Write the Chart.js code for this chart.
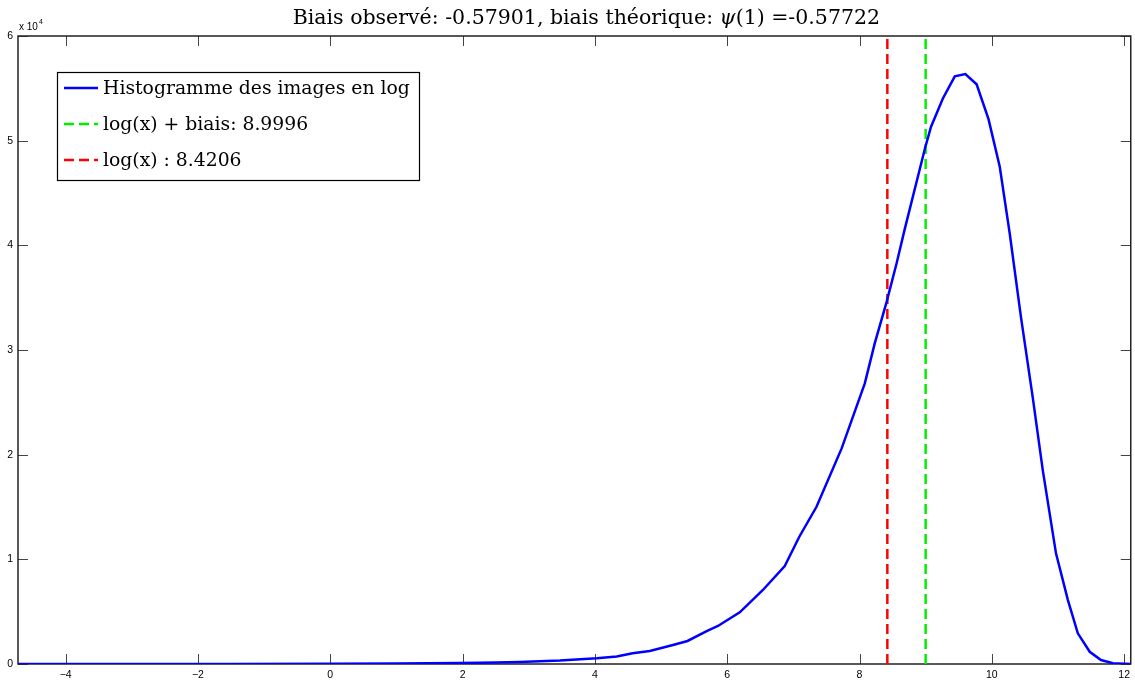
<!DOCTYPE html>
<html>
<head>
<meta charset="utf-8">
<script src="https://cdn.jsdelivr.net/npm/chart.js@4/dist/chart.umd.min.js"></script>
<style>
  html, body { margin: 0; padding: 0; background: #fff; }
  #wrap { width: 1135px; height: 684px; position: relative; }
</style>
</head>
<body>
<div id="wrap"><canvas id="chart"></canvas></div>
<script>
// Histogram of log-images with two reference lines (log(x) and log(x)+bias).

const TITLE_PARTS = [
  { text: 'Biais observé: -0.57901, biais théorique: ', italic: false },
  { text: 'ψ', italic: true },
  { text: '(1) =-0.57722', italic: false },
];

// bin centres and counts
const histX = [
  -4.72, -3, -1.5, 0, 1, 1.96, 2.5, 2.86, 3.47, 4.03, 4.33, 4.57, 4.83, 5.18, 5.40,
  5.69, 5.86, 6.19, 6.54, 6.87, 7.09, 7.35, 7.73, 8.08, 8.23, 8.41, 8.56, 8.68,
  8.99, 9.08, 9.26, 9.44, 9.60, 9.77, 9.95, 10.12, 10.27, 10.44, 10.62, 10.77,
  10.97, 11.15, 11.30, 11.48, 11.65, 11.83, 12.1
];
const histY = [
  0, 0, 5, 15, 40, 90, 140, 200, 340, 560, 720, 1020, 1240, 1810, 2200,
  3150, 3630, 4940, 7070, 9360, 12160, 15020, 20600, 26810, 30630, 34600, 38270, 41450,
  49280, 51310, 54030, 56150, 56370, 55390, 52050, 47500, 41160, 33160, 25400, 18530,
  10570, 6110, 2930, 1170, 380, 70, 0
];

const biasLineX = 8.9996;
const logLineX = 8.4206;
const lineYRange = [0, 60000];

const xTicks = [-4, -2, 0, 2, 4, 6, 8, 10, 12];
const yTicks = [0, 10000, 20000, 30000, 40000, 50000, 60000];
const X_MIN = -4.72, X_MAX = 12.1;

const SERIF = '"DejaVu Serif", serif';
const SANS = '"Liberation Sans", Arial, sans-serif';

const toPoints = (xs, ys) => xs.map((x, i) => ({ x, y: ys[i] }));

// box, inward ticks, title, exponent label
const framePlugin = {
  id: 'frame',
  beforeDatasetsDraw(chart) {
    const { ctx, chartArea: a, scales } = chart;
    ctx.save();
    ctx.strokeStyle = '#444';
    ctx.lineWidth = 1;
    const len = 10;
    ctx.beginPath();
    for (const v of xTicks) {
      const px = Math.round(scales.x.getPixelForValue(v)) + 0.5;
      ctx.moveTo(px, a.bottom); ctx.lineTo(px, a.bottom - len);
      ctx.moveTo(px, a.top); ctx.lineTo(px, a.top + len);
    }
    for (const v of yTicks) {
      const py = Math.round(scales.y.getPixelForValue(v)) + 0.5;
      ctx.moveTo(a.left, py); ctx.lineTo(a.left + len, py);
      ctx.moveTo(a.right, py); ctx.lineTo(a.right - len, py);
    }
    ctx.stroke();
    ctx.strokeStyle = '#222';
    ctx.lineWidth = 1.5;
    ctx.strokeRect(a.left, a.top, a.right - a.left, a.bottom - a.top);
    ctx.restore();
  },
  afterDraw(chart) {
    const { ctx, chartArea: a } = chart;
    ctx.save();
    // title
    ctx.fillStyle = '#000';
    ctx.textBaseline = 'alphabetic';
    const fontFor = p => (p.italic ? 'italic ' : '') + '20.5px ' + SERIF;
    let total = 0;
    for (const p of TITLE_PARTS) { ctx.font = fontFor(p); total += ctx.measureText(p.text).width; }
    let x = (a.left + a.right) / 2 - total / 2 + 12;
    for (const p of TITLE_PARTS) {
      ctx.font = fontFor(p);
      ctx.fillText(p.text, x, 24);
      x += ctx.measureText(p.text).width;
    }
    // exponent label
    ctx.font = '10px ' + SANS;
    ctx.fillText('x 10', a.left + 1, 30);
    const w = ctx.measureText('x 10').width;
    ctx.font = '7px ' + SANS;
    ctx.fillText('4', a.left + 1 + w + 1, 24);
    ctx.restore();
  }
};

// boxed legend in the upper left
const boxLegendPlugin = {
  id: 'boxLegend',
  afterDraw(chart) {
    const { ctx } = chart;
    const left = 57, top = 72, width = 362, height = 108;
    ctx.save();
    ctx.fillStyle = '#fff';
    ctx.fillRect(left, top, width, height);
    ctx.strokeStyle = '#000';
    ctx.lineWidth = 1.2;
    ctx.strokeRect(left + 0.5, top + 0.5, width, height);
    chart.data.datasets.forEach((ds, i) => {
      const y = top + 16 + i * 36;
      ctx.beginPath();
      ctx.strokeStyle = ds.borderColor;
      ctx.lineWidth = 2.5;
      ctx.setLineDash(ds.borderDash || []);
      ctx.moveTo(64, y); ctx.lineTo(98, y);
      ctx.stroke();
      ctx.setLineDash([]);
      ctx.fillStyle = '#000';
      ctx.font = '18.8px ' + SERIF;
      ctx.textBaseline = 'middle';
      ctx.fillText(ds.label, 103, y + 1);
    });
    ctx.restore();
  }
};

new Chart(document.getElementById('chart'), {
  type: 'line',
  data: {
    datasets: [
      {
        label: 'Histogramme des images en log',
        data: toPoints(histX, histY),
        borderColor: '#0000ff',
        borderWidth: 2.5,
        pointRadius: 0,
        tension: 0,
      },
      {
        label: 'log(x) + biais: 8.9996',
        data: toPoints([biasLineX, biasLineX], lineYRange),
        borderColor: '#00ee00',
        borderWidth: 2.5,
        borderDash: [10, 5],
        pointRadius: 0,
      },
      {
        label: 'log(x) : 8.4206',
        data: toPoints([logLineX, logLineX], lineYRange),
        borderColor: '#ff0000',
        borderWidth: 2.5,
        borderDash: [10, 5],
        pointRadius: 0,
      },
    ],
  },
  options: {
    responsive: true,
    maintainAspectRatio: false,
    animation: false,
    layout: { padding: { top: 36, right: 4, left: 0, bottom: 0 } },
    plugins: {
      legend: { display: false },
      title: { display: false },
      tooltip: { enabled: false },
    },
    scales: {
      x: {
        type: 'linear',
        min: X_MIN,
        max: X_MAX,
        afterBuildTicks: s => { s.ticks = xTicks.map(v => ({ value: v })); },
        afterFit: s => { s.height = 20; },
        grid: { display: false, drawTicks: false },
        border: { display: false },
        ticks: {
          padding: 5,
          color: '#000',
          font: { family: SANS, size: 10.5 },
          callback: v => String(v).replace('-', '\u2212'),
        },
      },
      y: {
        min: 0,
        max: 60000,
        afterBuildTicks: s => { s.ticks = yTicks.map(v => ({ value: v })); },
        afterFit: s => { s.width = 18; },
        grid: { display: false, drawTicks: false },
        border: { display: false },
        ticks: {
          padding: 5,
          color: '#000',
          font: { family: SANS, size: 10.5 },
          callback: v => String(v / 10000),
        },
      },
    },
  },
  plugins: [framePlugin, boxLegendPlugin],
});
</script>
</body>
</html>
